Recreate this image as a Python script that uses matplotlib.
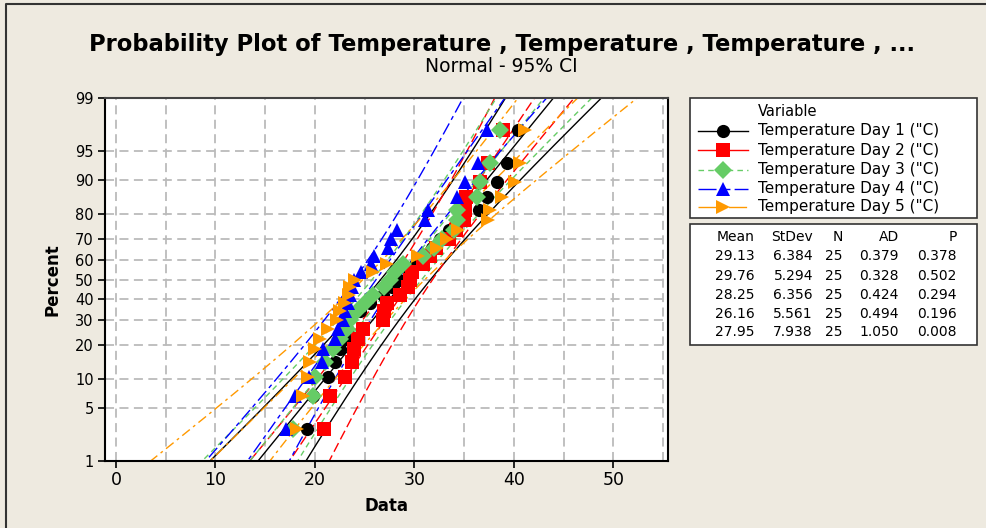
import numpy as np
import matplotlib
matplotlib.use('Agg')
import matplotlib.pyplot as plt
from matplotlib.patches import Rectangle
from statistics import NormalDist

nd = NormalDist()

# data (sorted values per day)
day1 = [19.2, 19.8, 21.3, 22.0, 22.5, 23.0, 23.2, 23.3, 24.5, 25.5, 26.8, 27.8, 28.5,
        29.5, 30.2, 31.0, 31.8, 32.6, 33.5, 34.9, 36.5, 37.3, 38.3, 39.3, 40.4]
day2 = [20.9, 21.5, 23.0, 23.7, 23.9, 24.3, 24.8, 26.8, 26.9, 27.3, 28.6, 29.4, 29.6,
        29.8, 30.9, 31.6, 32.2, 33.5, 34.2, 35.0, 35.1, 35.2, 36.6, 37.4, 38.9]
day3 = [17.8, 19.8, 20.0, 21.0, 21.8, 22.5, 23.2, 23.5, 24.2, 25.0, 25.8, 26.9, 27.6,
        28.1, 28.9, 30.9, 32.0, 32.8, 34.0, 34.3, 34.3, 36.3, 36.6, 37.6, 38.6]
day4 = [17.1, 18.0, 19.4, 20.7, 20.8, 22.0, 22.3, 22.8, 23.0, 23.3, 23.5, 23.7, 23.9,
        24.6, 25.6, 25.9, 27.4, 27.7, 28.3, 31.1, 31.4, 34.3, 35.1, 36.4, 37.3]
day5 = [18.2, 18.8, 19.3, 19.5, 20.0, 20.5, 21.3, 22.2, 22.5, 23.0, 23.4, 23.5, 24.0,
        25.8, 27.2, 30.4, 32.3, 33.3, 34.4, 37.4, 37.6, 38.8, 40.1, 40.6, 41.1]

names = ['Temperature Day 1 ("C)', 'Temperature Day 2 ("C)', 'Temperature Day 3 ("C)',
         'Temperature Day 4 ("C)', 'Temperature Day 5 ("C)']
means = [29.13, 29.76, 28.25, 26.16, 27.95]
stdevs = [6.384, 5.294, 6.356, 5.561, 7.938]
ns = [25, 25, 25, 25, 25]
ads = [0.379, 0.328, 0.424, 0.494, 1.050]
pvals = [0.378, 0.502, 0.294, 0.196, 0.008]

pct_ticks = [1, 5, 10, 20, 30, 40, 50, 60, 70, 80, 90, 95, 99]
x_ticks = [0, 10, 20, 30, 40, 50]

colors = ['black', '#FF0000', '#66CC66', '#0000FF', '#FF9900']
markers = ['o', 's', 'D', '^', '>']
msizes = [9.5, 9.5, 9, 10.5, 10.5]
styles = ['-', (0, (7, 3)), (0, (4, 3)), (0, (9, 3, 3, 3)), (0, (7, 3, 2, 3))]
legend_styles = ['-', '-', (0, (4, 3)), (0, (13, 6, 4, 3)), (0, (13, 3, 3, 3))]

W, H = 987, 528
bg = '#EEEAE0'
fig = plt.figure(figsize=(W / 100, H / 100), dpi=100, facecolor=bg)

def px(l, t, r, b):
    return [l / W, 1 - b / H, (r - l) / W, (b - t) / H]

ax = fig.add_axes(px(105, 98, 668, 461))
ax.set_facecolor('white')

datasets = [day1, day2, day3, day4, day5]
zz = np.linspace(-3, 3, 300)
for d, m, s, n, c, ls in zip(datasets, means, stdevs, ns, colors, styles):
    fit = m + s * zz
    se = s * np.sqrt((1 + zz ** 2 / 2) / n)
    for xs in (fit, fit - 1.96 * se, fit + 1.96 * se):
        ax.plot(xs, zz, color=c, lw=1.0, linestyle=ls, zorder=2)

for d, c, mk, ms in zip(datasets, colors, markers, msizes):
    n = len(d)
    zp = [nd.inv_cdf((i - 0.3) / (n + 0.4)) for i in range(1, n + 1)]
    ax.plot(d, zp, linestyle='none', marker=mk, color=c, markersize=ms,
            markeredgewidth=0, zorder=3)

ax.set_xlim(-1.1, 55.5)
ax.set_ylim(nd.inv_cdf(0.01), nd.inv_cdf(0.99))
ax.set_xticks(x_ticks)
ax.set_xticks(np.arange(5, 56, 10), minor=True)
ax.set_yticks([nd.inv_cdf(p / 100) for p in pct_ticks])
ax.set_yticklabels([str(p) for p in pct_ticks], fontsize=10.5)
ax.tick_params(axis='x', labelsize=12.5, length=5, width=1.2, direction='out', pad=2)
ax.tick_params(axis='y', length=5, width=1.2, direction='out', pad=3)
ax.tick_params(which='minor', length=0)
ax.grid(True, which='both', color='#BBBBBB', linestyle=(0, (5, 3)), lw=1.3, zorder=0)
ax.set_axisbelow(True)
for sp in ax.spines.values():
    sp.set_linewidth(1.5)
ax.spines['top'].set_color('#444444')
ax.set_xlabel('Data', fontsize=12, fontweight='bold', labelpad=6)
ax.set_ylabel('Percent', fontsize=12, fontweight='bold', labelpad=10)

# overlay in pixel coordinates for titles, legend and table
ov = fig.add_axes([0, 0, 1, 1])
ov.set_xlim(0, W)
ov.set_ylim(H, 0)
ov.axis('off')
ov.plot([6, 6, W + 5], [H + 5, 4, 4], color='#333333', lw=1.5, clip_on=False)
ov.text(502, 44, 'Probability Plot of Temperature , Temperature , Temperature , ...',
        ha='center', va='center', fontsize=16.3, fontweight='bold')
ov.text(501, 66, 'Normal - 95% CI', ha='center', va='center', fontsize=13.5)

ov.add_patch(Rectangle((690, 98), 287, 120, facecolor='white', edgecolor='#333333', lw=1.2))
ov.text(758, 111, 'Variable', ha='left', va='center', fontsize=10.5)
rows_y = [131, 150, 169.5, 188.5, 207]
for y, nm, c, mk, ms, ls in zip(rows_y, names, colors, markers, msizes, legend_styles):
    ov.plot([698, 748], [y, y], color=c, lw=1.0, linestyle=ls)
    ov.plot([723], [y], marker=mk, color=c, markersize=ms, markeredgewidth=0)
    ov.text(758, y, nm, ha='left', va='center', fontsize=11)

ov.add_patch(Rectangle((690, 224), 287, 121, facecolor='white', edgecolor='#333333', lw=1.2))
col_right = [755, 813, 843, 899, 957]
headers = ['Mean', 'StDev', 'N', 'AD', 'P']
for xr, h in zip(col_right, headers):
    ov.text(xr, 237, h, ha='right', va='center', fontsize=10)
tab_y = [256, 275.5, 295, 314, 332.5]
for y, m, s, n, a, p in zip(tab_y, means, stdevs, ns, ads, pvals):
    vals = [f'{m:.2f}', f'{s:.3f}', f'{n}', f'{a:.3f}', f'{p:.3f}']
    for xr, v in zip(col_right, vals):
        ov.text(xr, y, v, ha='right', va='center', fontsize=10)

fig.savefig('out.png', dpi=100, facecolor=bg)
